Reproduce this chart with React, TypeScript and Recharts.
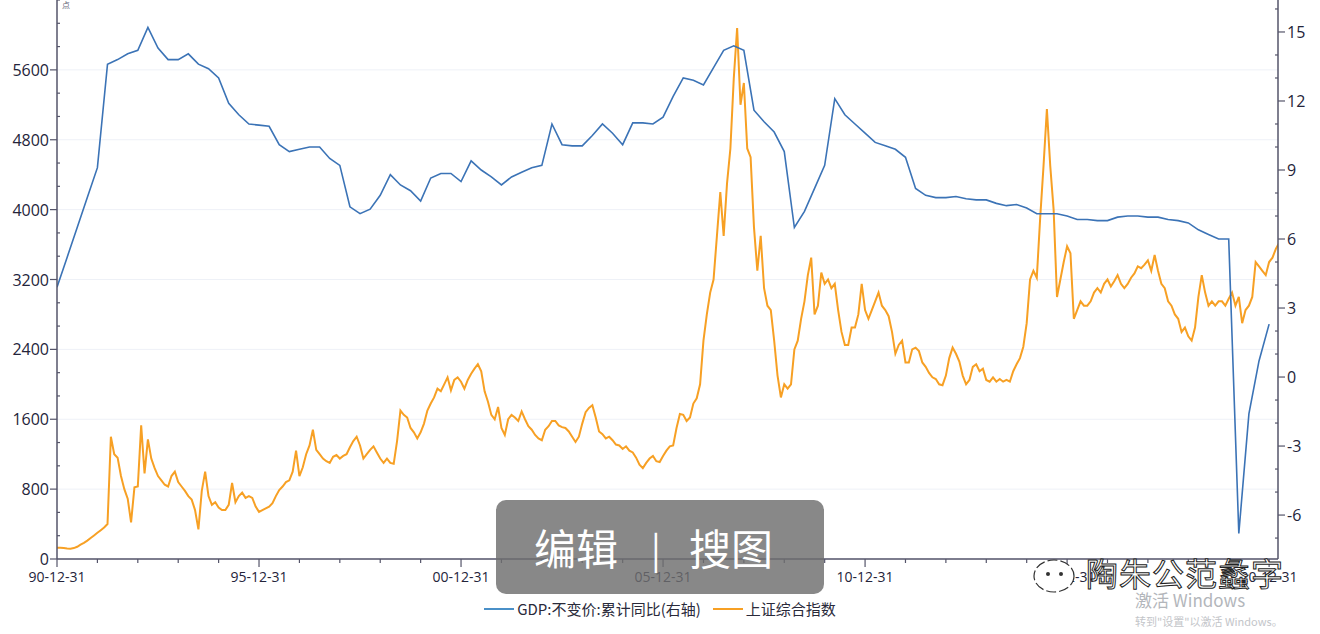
import { LineChart, Line, XAxis, YAxis, CartesianGrid } from 'recharts';

// GDP 不变价 累计同比 (%), quarterly from 1990Q4
const gdpValues = [
  3.9, 5.2, 6.5, 7.8, 9.1, 13.6, 13.8, 14.05, 14.2, 15.2,
  14.3, 13.8, 13.8, 14.05, 13.6, 13.4, 13.0, 11.9, 11.4, 11.0,
  10.95, 10.9, 10.1, 9.8, 9.9, 10.0, 10.0, 9.5, 9.2, 7.4,
  7.1, 7.3, 7.9, 8.8, 8.35, 8.1, 7.65, 8.65, 8.85, 8.85,
  8.5, 9.4, 9.0, 8.7, 8.35, 8.7, 8.9, 9.1, 9.2, 11.0,
  10.1, 10.05, 10.05, 10.5, 11.0, 10.6, 10.1, 11.05, 11.05, 11.0,
  11.3, 12.2, 13.0, 12.9, 12.7, 13.45, 14.2, 14.4, 14.2, 11.6,
  11.1, 10.65, 9.8, 6.5, 7.2, 8.2, 9.2, 12.1, 11.4, 11.0,
  10.6, 10.2, 10.05, 9.9, 9.55, 8.2, 7.9, 7.8, 7.8, 7.85,
  7.75, 7.7, 7.7, 7.55, 7.45, 7.5, 7.35, 7.1, 7.1, 7.1,
  7.0, 6.85, 6.85, 6.8, 6.8, 6.95, 7.0, 7.0, 6.95, 6.95,
  6.85, 6.8, 6.7, 6.4, 6.2, 6.0, 6.0, -6.8, -1.6, 0.7,
  2.3,
];

// 上证综合指数, month-end from 1990-12
const sseValues = [
  128, 130, 125, 120, 118, 125, 140, 165, 185, 210, 240, 270,
  300, 330, 360, 400, 1400, 1200, 1160, 950, 800, 690, 420, 820,
  830, 1530, 980, 1370, 1150, 1040, 950, 900, 850, 830, 950, 1000,
  880, 830, 780, 720, 680, 560, 340, 780, 1000, 720, 620, 650,
  590, 560, 560, 620, 870, 650, 720, 760, 700, 720, 700, 600,
  540, 560, 580, 600, 640, 720, 790, 830, 880, 900, 1000, 1240,
  950, 1050, 1200, 1300, 1480, 1250, 1200, 1150, 1120, 1100, 1170, 1190,
  1150, 1180, 1200, 1280, 1350, 1400, 1300, 1150, 1200, 1250, 1290, 1220,
  1150, 1100, 1150, 1100, 1090, 1350, 1700, 1650, 1620, 1500, 1450, 1380,
  1450, 1550, 1700, 1780, 1850, 1950, 1920, 2000, 2080, 1930, 2050, 2080,
  2030, 1950, 2050, 2120, 2180, 2230, 2150, 1920, 1800, 1650, 1600, 1740,
  1500, 1420, 1600, 1650, 1620, 1580, 1690, 1600, 1520, 1480, 1420, 1380,
  1360, 1480, 1520, 1580, 1580, 1530, 1510, 1500, 1460, 1400, 1340, 1400,
  1550, 1680, 1730, 1760, 1620, 1460, 1430, 1380, 1400, 1360, 1310, 1300,
  1260, 1290, 1240, 1220, 1160, 1080, 1040, 1100, 1150, 1180, 1120, 1110,
  1180, 1240, 1290, 1300, 1500, 1660, 1650, 1580, 1620, 1780, 1840, 2000,
  2500, 2800, 3050, 3200, 3700, 4200, 3700, 4300, 4700, 5500, 6080, 5200,
  5450, 4700, 4600, 3800, 3300, 3700, 3100, 2900, 2850, 2500, 2100, 1850,
  2000, 1950, 2000, 2400, 2500, 2750, 2950, 3250, 3450, 2800, 2900, 3280,
  3150, 3200, 3100, 3150, 2850, 2600, 2450, 2450, 2650, 2650, 2800, 3150,
  2850, 2750, 2850, 2950, 3050, 2900, 2850, 2780, 2600, 2350, 2450, 2500,
  2250, 2250, 2400, 2420, 2380, 2250, 2200, 2130, 2080, 2060, 2000, 1990,
  2100, 2300, 2420, 2350, 2260, 2100, 2000, 2050, 2200, 2230, 2150, 2180,
  2050, 2030, 2080, 2030, 2060, 2030, 2050, 2030, 2150, 2230, 2300, 2430,
  2700, 3200, 3300, 3220, 3900, 4500, 5150, 4500, 4000, 3000, 3200, 3400,
  3580, 3500, 2750, 2850, 2950, 2900, 2900, 2950, 3050, 3100, 3050, 3150,
  3200, 3120, 3180, 3250, 3150, 3100, 3150, 3220, 3270, 3350, 3330, 3370,
  3420, 3300, 3480, 3300, 3150, 3100, 2950, 2900, 2800, 2750, 2600, 2650,
  2550, 2500, 2650, 3000, 3250, 3050, 2900, 2950, 2900, 2950, 2950, 2900,
  2980, 3050, 2900, 3000, 2700, 2850, 2900, 3000, 3400, 3350, 3300, 3250,
  3400, 3450, 3550, 3620,
];

const xTickLabels = ['90-12-31', '95-12-31', '00-12-31', '05-12-31', '10-12-31', '15-12-31', '20-12-31'];
const leftTickLabels = [0, 800, 1600, 2400, 3200, 4000, 4800, 5600];
const rightTickLabels = [-6, -3, 0, 3, 6, 9, 12, 15];

const gdpData = gdpValues.map((v, i) => ({ t: 1991 + i * 0.25, v }));
const sseData = sseValues.map((v, i) => ({ t: 1991 + i / 12, v }));

const W = 1320;
const H = 634;
const LEFT_X = 57;
const RIGHT_X = 1278;
const BOTTOM_Y = 559;
const AXIS = '#55556a';
const TEXT = '#24243a';
const BLUE = '#3b73b6';
const ORANGE = '#f7a024';
const FONT = '"Open Sans", "Noto Sans", sans-serif';
const CJK = '"Noto Sans CJK SC", "Noto Sans", sans-serif';

const yearTicks = Array.from({ length: 31 }, (_, k) => 1991 + k);
const leftTicks = Array.from({ length: 25 }, (_, k) => (k * 800) / 3);
const rightTicks = Array.from({ length: 24 }, (_, k) => k - 7);

const XTick = (props: any) => {
  const { x, payload } = props;
  const k = Math.round(payload.value - 1991);
  const major = k % 5 === 0;
  return (
    <g>
      <line x1={x} x2={x} y1={BOTTOM_Y} y2={BOTTOM_Y + (major ? 8 : 4)} stroke={AXIS} strokeWidth={1.2} />
      {major && (
        <text x={x} y={BOTTOM_Y + 23} textAnchor="middle" fill={TEXT} fontSize={14} fontFamily={FONT}>
          {xTickLabels[k / 5]}
        </text>
      )}
    </g>
  );
};

const LeftTick = (props: any) => {
  const { y, payload } = props;
  const v = Math.round(payload.value);
  const major = leftTickLabels.includes(v);
  return (
    <g>
      {major ? (
        <line x1={LEFT_X - 7} x2={LEFT_X} y1={y} y2={y} stroke={AXIS} strokeWidth={1.2} />
      ) : (
        <line x1={LEFT_X} x2={LEFT_X + 3} y1={y} y2={y} stroke={AXIS} strokeWidth={1.2} />
      )}
      {major && (
        <text x={LEFT_X - 8} y={y + 6} textAnchor="end" fill={TEXT} fontSize={16} fontFamily={FONT}>
          {v}
        </text>
      )}
    </g>
  );
};

const RightTick = (props: any) => {
  const { y, payload } = props;
  const v = Math.round(payload.value);
  const major = rightTickLabels.includes(v);
  return (
    <g>
      {major ? (
        <line x1={RIGHT_X} x2={RIGHT_X + 7} y1={y} y2={y} stroke={AXIS} strokeWidth={1.2} />
      ) : (
        <line x1={RIGHT_X - 3} x2={RIGHT_X} y1={y} y2={y} stroke={AXIS} strokeWidth={1.2} />
      )}
      {major && (
        <text x={RIGHT_X + 9} y={y + 6} textAnchor="start" fill={TEXT} fontSize={16} fontFamily={FONT}>
          {v}
        </text>
      )}
    </g>
  );
};

const App = () => {
  return (
    <div style={{ position: 'absolute', left: 0, top: 0, width: W, height: H, background: '#fff', overflow: 'hidden' }}>
      <LineChart width={W} height={H} data={sseData} margin={{ top: 0, right: 0, bottom: 45, left: 0 }}>
        <CartesianGrid vertical={false} stroke="#eef1f7" yAxisId="left" horizontalValues={leftTickLabels} />
        <XAxis
          dataKey="t"
          type="number"
          domain={[1991, 2021.22]}
          ticks={yearTicks}
          interval={0}
          allowDataOverflow
          tickLine={false}
          axisLine={{ stroke: AXIS, strokeWidth: 1.5 }}
          tick={<XTick />}
          height={30}
        />
        <YAxis
          yAxisId="left"
          domain={[0, 6400]}
          ticks={leftTicks}
          interval={0}
          allowDataOverflow
          tickLine={false}
          axisLine={{ stroke: AXIS, strokeWidth: 1.5 }}
          tick={<LeftTick />}
          width={LEFT_X}
        />
        <YAxis
          yAxisId="right"
          orientation="right"
          domain={[-7.91, 16.39]}
          ticks={rightTicks}
          interval={0}
          allowDataOverflow
          tickLine={false}
          axisLine={{ stroke: AXIS, strokeWidth: 1.5 }}
          tick={<RightTick />}
          width={W - RIGHT_X}
        />
        <Line
          yAxisId="left"
          data={sseData}
          dataKey="v"
          name="上证综合指数"
          type="linear"
          stroke={ORANGE}
          strokeWidth={2}
          dot={false}
          isAnimationActive={false}
        />
        <Line
          yAxisId="right"
          data={gdpData}
          dataKey="v"
          name="GDP:不变价:累计同比(右轴)"
          type="linear"
          stroke={BLUE}
          strokeWidth={1.6}
          dot={false}
          isAnimationActive={false}
        />
      </LineChart>
      {/* legend */}
      <div style={{ position: 'absolute', left: 0, top: 598, width: W, display: 'flex', justifyContent: 'center', alignItems: 'center', fontFamily: CJK, fontSize: 15, color: '#2a2a3a', lineHeight: '22px' }}>
        <span style={{ display: 'inline-block', width: 30, height: 2, background: '#4a90c8', marginRight: 3 }} />
        <span>GDP:不变价:累计同比(右轴)</span>
        <span style={{ display: 'inline-block', width: 30, height: 2, background: ORANGE, marginLeft: 12, marginRight: 3 }} />
        <span>上证综合指数</span>
      </div>
      <div style={{ position: 'absolute', left: 62, top: 0, fontSize: 8, lineHeight: '9px', color: '#667', fontFamily: CJK }}>点</div>
      {/* screenshot overlays */}
      <div
        style={{
          position: 'absolute', left: 496, top: 500, width: 328, height: 94, borderRadius: 10,
          background: 'rgba(110,110,110,0.82)', color: '#fff', display: 'flex', alignItems: 'center',
          fontSize: 42, fontFamily: CJK, lineHeight: '50px',
        }}
      >
        <span style={{ position: 'absolute', left: 38 }}>编辑</span>
        <span style={{ position: 'absolute', left: 155, fontSize: 36 }}>|</span>
        <span style={{ position: 'absolute', left: 193 }}>搜图</span>
      </div>
      <svg style={{ position: 'absolute', left: 1030, top: 556 }} width={56} height={40}>
        <ellipse cx={24} cy={20} rx={20} ry={16} fill="#fff" stroke="#333" strokeWidth={1.2} strokeDasharray="10 3" />
        <circle cx={18} cy={18} r={2} fill="#333" />
        <circle cx={31} cy={18} r={2} fill="#333" />
      </svg>
      <div
        style={{
          position: 'absolute', left: 1086, top: 552, fontSize: 32, lineHeight: '40px', color: '#fff',
          fontFamily: CJK, WebkitTextStroke: '1px #222', letterSpacing: 1,
        }}
      >
        陶朱公范蠡字
      </div>
      <div style={{ position: 'absolute', left: 1135, top: 590, fontSize: 17, lineHeight: '20px', color: '#b3b6bb', fontFamily: CJK }}>
        激活 Windows
      </div>
      <div style={{ position: 'absolute', left: 1135, top: 614, fontSize: 11, lineHeight: '14px', color: '#c3c5c9', fontFamily: CJK }}>
        转到"设置"以激活 Windows。
      </div>
    </div>
  );
};

export default App;
